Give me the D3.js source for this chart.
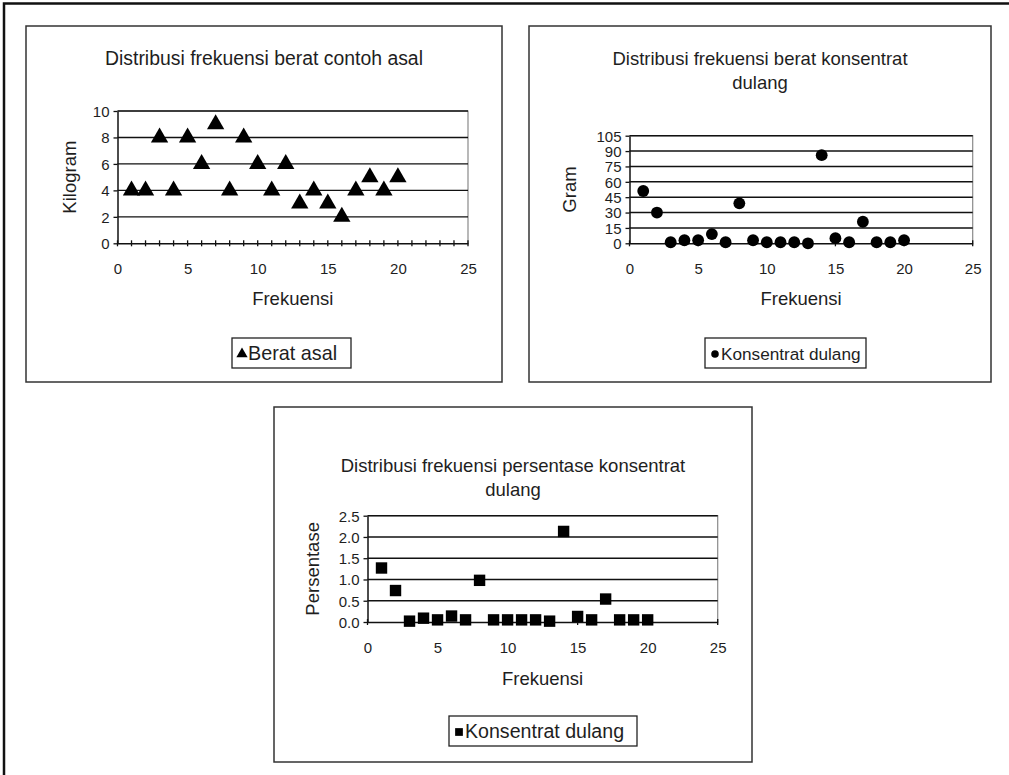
<!DOCTYPE html>
<html>
<head>
<meta charset="utf-8">
<script src="https://cdn.jsdelivr.net/npm/d3@7"></script>
<style>
  html, body { margin: 0; padding: 0; background: #fff; }
  svg { display: block; }
  text { font-family: "Liberation Sans", Arial, sans-serif; fill: #1e1e1e; }
</style>
</head>
<body>
<svg id="chart" width="1009" height="775"></svg>
<script>
// Sample number (x axis) shared by all three panels
const frekuensi = [1, 2, 3, 4, 5, 6, 7, 8, 9, 10, 11, 12, 13, 14, 15, 16, 17, 18, 19, 20];

// Weight of the original sample, kg
const beratAsal = [4, 4, 8, 4, 8, 6, 9, 4, 8, 6, 4, 6, 3, 4, 3, 2, 4, 5, 4, 5];

// Weight of the panning concentrate, g
const konsentratGram = [51, 30, 1, 3, 3, 9, 1, 39, 3, 1, 1, 1, 0, 86, 5, 1, 21, 1, 1, 3];

// Concentrate as a percentage of the original weight
const konsentratPersen = [1.27, 0.74, 0.02, 0.09, 0.05, 0.14, 0.05, 0.98, 0.05, 0.05,
                          0.05, 0.05, 0.02, 2.13, 0.13, 0.05, 0.54, 0.05, 0.05, 0.05];

// Axis ticks
const ticksFrekuensi = [0, 5, 10, 15, 20, 25];
const ticksKilogram = [0, 2, 4, 6, 8, 10];
const ticksGram = [0, 15, 30, 45, 60, 75, 90, 105];
const ticksPersen = [0, 0.5, 1.0, 1.5, 2.0, 2.5];

// Text
const judul1 = ["Distribusi frekuensi berat contoh asal"];
const judul2 = ["Distribusi frekuensi berat konsentrat", "dulang"];
const judul3 = ["Distribusi frekuensi persentase konsentrat", "dulang"];
const labelX = "Frekuensi";
const legenda1 = "Berat asal";
const legenda2 = "Konsentrat dulang";
const legenda3 = "Konsentrat dulang";

const svg = d3.select("#chart");

// Outer frame (top and left edges visible)
svg.append("path")
  .attr("d", "M4,775 L4,3.5 L1009,3.5")
  .attr("fill", "none").attr("stroke", "#111").attr("stroke-width", 2.5);

function drawPanel(cfg) {
  const g = svg.append("g");
  const b = cfg.box;

  g.append("rect")
    .attr("x", b.x).attr("y", b.y).attr("width", b.w).attr("height", b.h)
    .attr("fill", "#fff").attr("stroke", "#333").attr("stroke-width", 1.5);

  // Title
  cfg.title.forEach((line, i) => {
    g.append("text")
      .attr("x", b.x + b.w / 2).attr("y", cfg.titleY + i * 24)
      .attr("text-anchor", "middle").attr("font-size", cfg.titleSize)
      .text(line);
  });

  const p = cfg.plot;
  const x = d3.scaleLinear().domain([0, 25]).range([p.x0, p.x1]);
  const y = d3.scaleLinear().domain([0, cfg.yMax]).range([p.y1, p.y0]);

  // Plot area border (grey) on top and right
  g.append("path")
    .attr("d", `M${p.x0},${p.y0} L${p.x1},${p.y0} L${p.x1},${p.y1}`)
    .attr("fill", "none").attr("stroke", "#8a8a8a").attr("stroke-width", 1.2);

  // Horizontal gridlines
  g.append("g").selectAll("line")
    .data(cfg.yTicks.filter(t => t > 0))
    .join("line")
    .attr("x1", p.x0).attr("x2", p.x1)
    .attr("y1", d => y(d)).attr("y2", d => y(d))
    .attr("stroke", "#111").attr("stroke-width", 1.4);

  // Y axis
  const yAxis = d3.axisLeft(y).tickValues(cfg.yTicks).tickSize(4).tickSizeOuter(0)
    .tickFormat(cfg.yFormat);
  const ya = g.append("g").attr("transform", `translate(${p.x0},0)`).call(yAxis);
  ya.select(".domain").attr("stroke", "#111").attr("stroke-width", 1.5);
  ya.selectAll(".tick line").attr("stroke", "#111").attr("stroke-width", 1.3);
  ya.selectAll(".tick text")
    .attr("font-size", 15).attr("font-family", "Liberation Sans, Arial, sans-serif")
    .attr("fill", "#1e1e1e").attr("x", -8).attr("dy", "0.36em");

  // X axis with crossing tick marks
  const xAxis = d3.axisBottom(x).tickValues(ticksFrekuensi).tickSize(0).tickSizeOuter(0);
  const xa = g.append("g").attr("transform", `translate(0,${p.y1})`).call(xAxis);
  xa.select(".domain").attr("stroke", "#111").attr("stroke-width", 1.5);
  xa.selectAll(".tick text")
    .attr("font-size", 15).attr("font-family", "Liberation Sans, Arial, sans-serif")
    .attr("fill", "#1e1e1e").attr("y", 0).attr("dy", cfg.xLabelDy);
  g.append("g").selectAll("line")
    .data(cfg.xTickMarks)
    .join("line")
    .attr("x1", d => x(d)).attr("x2", d => x(d))
    .attr("y1", p.y1 - 3).attr("y2", p.y1 + 3)
    .attr("stroke", "#111").attr("stroke-width", 1.3);

  // Axis titles
  g.append("text")
    .attr("x", (p.x0 + p.x1) / 2).attr("y", cfg.xTitleY)
    .attr("text-anchor", "middle").attr("font-size", 18.5)
    .text(labelX);
  g.append("text")
    .attr("transform", `translate(${cfg.yTitleX},${(p.y0 + p.y1) / 2}) rotate(-90)`)
    .attr("text-anchor", "middle").attr("font-size", 18.5)
    .text(cfg.yTitle);

  // Markers
  const sym = d3.symbol().type(cfg.symbol).size(cfg.symbolSize);
  g.append("g").selectAll("path")
    .data(frekuensi.map((f, i) => [f, cfg.values[i]]))
    .join("path")
    .attr("d", sym)
    .attr("transform", d => `translate(${x(d[0])},${y(d[1]) + cfg.symbolDy})`)
    .attr("fill", "#000");

  // Legend
  const L = cfg.legend;
  g.append("rect")
    .attr("x", L.x).attr("y", L.y).attr("width", L.w).attr("height", L.h)
    .attr("fill", "#fff").attr("stroke", "#222").attr("stroke-width", 1.3);
  g.append("path")
    .attr("d", d3.symbol().type(cfg.symbol).size(cfg.legendSymbolSize))
    .attr("transform", `translate(${L.x + 10},${L.y + L.h / 2 + 1})`)
    .attr("fill", "#000");
  g.append("text")
    .attr("x", L.x + 16).attr("y", L.y + L.h / 2 + 7)
    .attr("font-size", cfg.legendSize)
    .text(cfg.legendText);
}

drawPanel({
  box: { x: 26, y: 26, w: 476, h: 356 },
  title: judul1, titleY: 65, titleSize: 19.4,
  plot: { x0: 117.5, x1: 468, y0: 111, y1: 243.3 },
  yMax: 10, yTicks: ticksKilogram, yFormat: d3.format("d"),
  xTickMarks: frekuensi.concat([0, 21, 22, 23, 24, 25]),
  xLabelDy: 31, xTitleY: 305,
  yTitle: "Kilogram", yTitleX: 76,
  values: beratAsal, symbol: d3.symbolTriangle, symbolSize: 130, symbolDy: 0,
  legend: { x: 232, y: 338, w: 119, h: 30 }, legendText: legenda1,
  legendSymbolSize: 55, legendSize: 19.8
});

drawPanel({
  box: { x: 529, y: 26, w: 462, h: 356 },
  title: judul2, titleY: 65, titleSize: 18.5,
  plot: { x0: 629.5, x1: 972.7, y0: 135.7, y1: 243.3 },
  yMax: 105, yTicks: ticksGram, yFormat: d3.format("d"),
  xTickMarks: ticksFrekuensi,
  xLabelDy: 31, xTitleY: 305,
  yTitle: "Gram", yTitleX: 576,
  values: konsentratGram, symbol: d3.symbolCircle, symbolSize: 110, symbolDy: 0,
  legend: { x: 705, y: 338, w: 161, h: 30 }, legendText: legenda2,
  legendSymbolSize: 45, legendSize: 17.2
});

drawPanel({
  box: { x: 274, y: 407, w: 478, h: 355 },
  title: judul3, titleY: 472, titleSize: 18.5,
  plot: { x0: 367.5, x1: 717.7, y0: 515.7, y1: 622 },
  yMax: 2.5, yTicks: ticksPersen, yFormat: d3.format(".1f"),
  xTickMarks: ticksFrekuensi,
  xLabelDy: 31, xTitleY: 685,
  yTitle: "Persentase", yTitleX: 319,
  values: konsentratPersen, symbol: d3.symbolSquare, symbolSize: 130, symbolDy: 0,
  legend: { x: 449, y: 716, w: 188, h: 30 }, legendText: legenda3,
  legendSymbolSize: 60, legendSize: 19.6
});
</script>
</body>
</html>
